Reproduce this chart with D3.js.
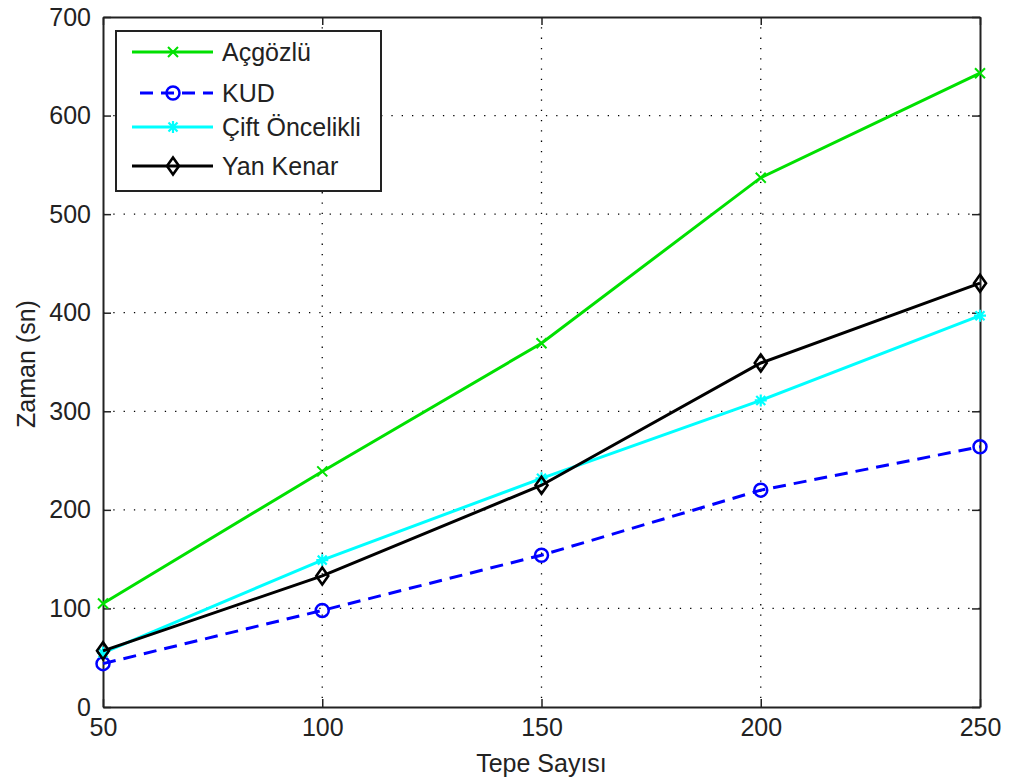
<!DOCTYPE html>
<meta charset="utf-8">
<style>
  body { margin: 0; background: #fff; }
  text { font-family: "Liberation Sans", Arial, sans-serif; fill: #222; }
  .grid line { stroke: #000; stroke-width: 1.3; stroke-dasharray: 1.3, 9; }
  .axis path, .axis line { stroke: #222; }
</style>
<body>
<script src="https://d3js.org/d3.v7.min.js"></script>
<script>
  // data
  var nodes = [50, 100, 150, 200, 250];
  var greedy = [105, 239, 369, 537, 643];   // Açgözlü
  var kud = [44, 98, 154, 220, 264];        // KUD
  var dual = [55, 149, 232, 311, 397];      // Çift Öncelikli
  var side = [57, 133, 225, 349, 430];      // Yan Kenar
  var yTicks = [0, 100, 200, 300, 400, 500, 600, 700];

  var series = [
    { name: "Açgözlü", values: greedy, color: "#00e000", dash: null, marker: "x" },
    { name: "KUD", values: kud, color: "#0000ff", dash: "13,8", marker: "o" },
    { name: "Çift Öncelikli", values: dual, color: "#00ffff", dash: null, marker: "*" },
    { name: "Yan Kenar", values: side, color: "#000000", dash: null, marker: "d" }
  ];

  var margin = { top: 17, right: 40, bottom: 77, left: 103 },
    width = 1020 - margin.left - margin.right,
    height = 784 - margin.top - margin.bottom;

  var svg = d3.select("body").append("svg")
    .attr("width", 1020)
    .attr("height", 784)
    .append("g")
    .attr("transform", "translate(" + margin.left + "," + margin.top + ")");

  var x = d3.scaleLinear().domain([50, 250]).range([0, width]);
  var y = d3.scaleLinear().domain([0, 700]).range([height, 0]);

  // grid
  svg.append("g").attr("class", "grid")
    .selectAll("line.gx").data(nodes.slice(1, -1)).enter().append("line")
    .attr("x1", d => x(d)).attr("x2", d => x(d))
    .attr("y1", 0).attr("y2", height);
  svg.append("g").attr("class", "grid")
    .selectAll("line.gy").data(yTicks.slice(1, -1)).enter().append("line")
    .attr("y1", d => y(d)).attr("y2", d => y(d))
    .attr("x1", 0).attr("x2", width);

  // axes (matlab style: inner ticks on every side)
  var xb = svg.append("g").attr("class", "axis")
    .attr("transform", "translate(0," + height + ")")
    .call(d3.axisBottom(x).tickValues(nodes).tickSizeInner(-8).tickSizeOuter(0).tickPadding(11));
  var yl = svg.append("g").attr("class", "axis")
    .call(d3.axisLeft(y).tickValues(yTicks).tickSizeInner(-8).tickSizeOuter(0).tickPadding(12));
  svg.append("g").attr("class", "axis")
    .call(d3.axisTop(x).tickValues(nodes).tickSizeInner(-8).tickSizeOuter(0).tickFormat(""));
  svg.append("g").attr("class", "axis")
    .attr("transform", "translate(" + width + ",0)")
    .call(d3.axisRight(y).tickValues(yTicks).tickSizeInner(-8).tickSizeOuter(0).tickFormat(""));
  svg.selectAll(".axis path").attr("stroke-width", 2);
  svg.selectAll(".axis line").attr("stroke-width", 1.5);
  svg.selectAll(".axis text").style("font-size", "25px").attr("fill", "#222");
  xb.selectAll("text").attr("dy", "0.72em");

  // axis labels
  svg.append("text")
    .attr("x", width / 2).attr("y", height + 65)
    .attr("text-anchor", "middle")
    .style("font-size", "25px")
    .text("Tepe Sayısı");
  svg.append("text")
    .attr("transform", "rotate(-90)")
    .attr("x", -(364 - margin.top)).attr("y", -68)
    .attr("text-anchor", "middle")
    .style("font-size", "25px")
    .text("Zaman (sn)");

  function drawMarker(g, type, color) {
    if (type === "x") {
      g.append("path").attr("d", "M-5,-5L5,5M-5,5L5,-5")
        .attr("stroke", color).attr("stroke-width", 2).attr("fill", "none");
    } else if (type === "o") {
      g.append("circle").attr("r", 6.5)
        .attr("stroke", color).attr("stroke-width", 2.5).attr("fill", "none");
    } else if (type === "*") {
      g.append("path").attr("d", "M-6,0L6,0M0,-6L0,6M-4.5,-4.5L4.5,4.5M-4.5,4.5L4.5,-4.5")
        .attr("stroke", color).attr("stroke-width", 2.2).attr("fill", "none");
    } else if (type === "d") {
      g.append("path").attr("d", "M0,-8.5L6,0L0,8.5L-6,0Z")
        .attr("stroke", color).attr("stroke-width", 2.6).attr("fill", "none");
    }
  }

  var line = d3.line()
    .x(function (d, i) { return x(nodes[i]); })
    .y(function (d) { return y(d); });

  series.forEach(function (s) {
    svg.append("path")
      .datum(s.values)
      .attr("fill", "none")
      .attr("stroke", s.color)
      .attr("stroke-width", 3)
      .attr("stroke-dasharray", s.dash)
      .attr("d", line);
    s.values.forEach(function (v, i) {
      var g = svg.append("g").attr("transform", "translate(" + x(nodes[i]) + "," + y(v) + ")");
      drawMarker(g, s.marker, s.color);
    });
  });

  // legend
  var legend = svg.append("g").attr("transform", "translate(13,14)");
  legend.append("rect")
    .attr("width", 265).attr("height", 160)
    .attr("fill", "#fff").attr("stroke", "#222").attr("stroke-width", 2);
  var rowY = [21, 62, 96, 135];
  series.forEach(function (s, i) {
    var r = legend.append("g").attr("transform", "translate(0," + rowY[i] + ")");
    r.append("line").attr("x1", s.dash ? 24 : 16).attr("x2", 97)
      .attr("stroke", s.color).attr("stroke-width", 3)
      .attr("stroke-dasharray", s.dash);
    drawMarker(r.append("g").attr("transform", "translate(57,0)"), s.marker, s.color);
    r.append("text").attr("x", 106).attr("dy", "0.36em")
      .style("font-size", "25px").text(s.name);
  });
</script>
</body>
